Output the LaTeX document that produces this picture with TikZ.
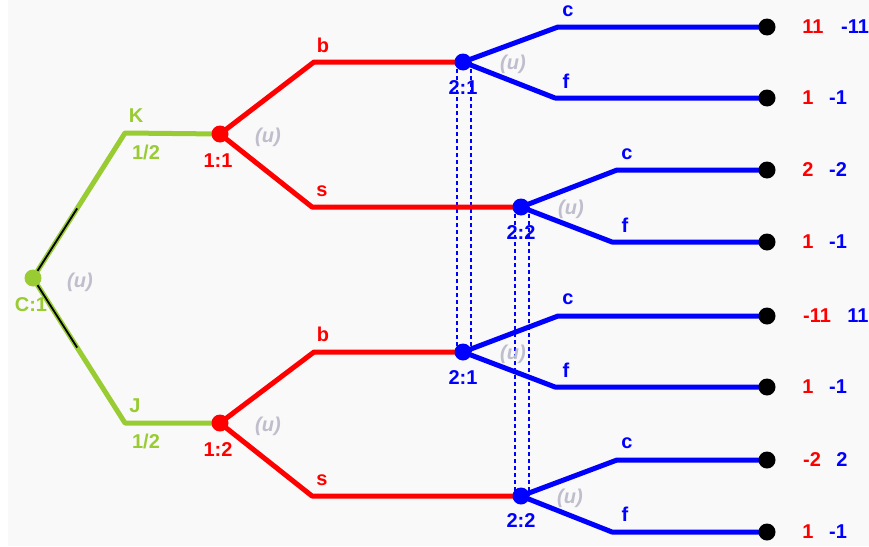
\documentclass[tikz,border=0pt]{standalone}
\usepackage{fontspec}
\setmainfont{Liberation Sans}
\usetikzlibrary{calc}
\pgfdeclarelayer{back}
\pgfdeclarelayer{mid}
\pgfsetlayers{back,mid,main}
\definecolor{gr}{RGB}{153,204,51}
\definecolor{rd}{RGB}{255,0,0}
\definecolor{bl}{RGB}{0,0,255}
\definecolor{ug}{RGB}{190,190,204}
\definecolor{bgc}{RGB}{249,249,249}
\begin{document}
\begin{tikzpicture}[x=1pt,y=-1pt,
  dot/.style={circle,fill=#1,inner sep=0pt,minimum size=17pt},
  term/.style={circle,fill=black,inner sep=0pt,minimum size=17pt},
  lab/.style={text=#1,font=\fontsize{20}{20}\selectfont\bfseries,inner sep=0pt},
  unif/.style={text=ug,font=\fontsize{20}{20}\selectfont\bfseries\itshape,inner sep=0pt},
  arm/.style={draw=#1,line width=5pt,line join=round},
  infoset/.style={color=bl,line width=1.1pt,dash pattern=on 4pt off 3pt},
]
\useasboundingbox (0,0) rectangle (869,546);
% decision nodes
\node[dot=gr] (root) at (33,278) {};
\node[dot=rd] (n11) at (220,134) {};
\node[dot=rd] (n12) at (220,423) {};
\node[dot=bl] (n21a) at (463,62) {};
\node[dot=bl] (n22a) at (521,207) {};
\node[dot=bl] (n21b) at (463,352) {};
\node[dot=bl] (n22b) at (521,496) {};
% terminals
\node[term] (t1) at (767,27) {};
\node[term] (t2) at (767,98) {};
\node[term] (t3) at (767,170) {};
\node[term] (t4) at (767,242) {};
\node[term] (t5) at (767,316) {};
\node[term] (t6) at (767,387) {};
\node[term] (t7) at (767,460) {};
\node[term] (t8) at (767,532) {};
% bends
\coordinate (Kc) at (125,133);
\coordinate (Jc) at (125,423);
\coordinate (b1c) at (314,62);
\coordinate (s1c) at (312,207);
\coordinate (b2c) at (314,352);
\coordinate (s2c) at (312,496);
\coordinate (c1c) at (558,27);
\coordinate (f1c) at (555,98);
\coordinate (c2c) at (617,170);
\coordinate (f2c) at (612,242);
\coordinate (c3c) at (558,316);
\coordinate (f3c) at (555,387);
\coordinate (c4c) at (617,460);
\coordinate (f4c) at (612,532);
\begin{pgfonlayer}{back}
  \fill[white] (0,0) rectangle (869,546);
  \fill[bgc] (8,0) rectangle (869,546);
  \draw[infoset] ($(n21a.center)+(-6,0)$) -- ($(n21b.center)+(-6,0)$);
  \draw[infoset] ($(n21a.center)+(8,0)$) -- ($(n21b.center)+(8,0)$);
  \draw[infoset] ($(n22a.center)+(-6,0)$) -- ($(n22b.center)+(-6,0)$);
  \draw[infoset] ($(n22a.center)+(8,0)$) -- ($(n22b.center)+(8,0)$);
\end{pgfonlayer}
\begin{pgfonlayer}{mid}
  \draw[arm=gr] (root.center) -- (Kc) -- (n11.center);
  \draw[arm=gr] (root.center) -- (Jc) -- (n12.center);
  \draw[black,line width=1.8pt] (root.center) -- ($(root.center)!0.48!(Kc)$);
  \draw[black,line width=1.8pt] (root.center) -- ($(root.center)!0.48!(Jc)$);
  \draw[arm=rd] (n11.center) -- (b1c) -- (n21a.center);
  \draw[arm=rd] (n11.center) -- (s1c) -- (n22a.center);
  \draw[arm=rd] (n12.center) -- (b2c) -- (n21b.center);
  \draw[arm=rd] (n12.center) -- (s2c) -- (n22b.center);
  \draw[arm=bl] (n21a.center) -- (c1c) -- (t1.center);
  \draw[arm=bl] (n21a.center) -- (f1c) -- (t2.center);
  \draw[arm=bl] (n22a.center) -- (c2c) -- (t3.center);
  \draw[arm=bl] (n22a.center) -- (f2c) -- (t4.center);
  \draw[arm=bl] (n21b.center) -- (c3c) -- (t5.center);
  \draw[arm=bl] (n21b.center) -- (f3c) -- (t6.center);
  \draw[arm=bl] (n22b.center) -- (c4c) -- (t7.center);
  \draw[arm=bl] (n22b.center) -- (f4c) -- (t8.center);
\end{pgfonlayer}
% labels
\node[lab=gr] (lC) at (31,305) {C:1};
\node[unif] (u0) at (80,282) {(u)};
\node[lab=gr] (lK) at (136,116) {K};
\node[lab=gr] (pK) at (146,152) {1/2};
\node[lab=gr] (lJ) at (135,406) {J};
\node[lab=gr] (pJ) at (146,441) {1/2};
\node[lab=rd] (l11) at (218,161) {1:1};
\node[unif] (u11) at (268,137) {(u)};
\node[lab=rd] (l12) at (218,450) {1:2};
\node[unif] (u12) at (268,426) {(u)};
\node[lab=rd] (lb1) at (323,45) {b};
\node[lab=rd] (ls1) at (322,191) {s};
\node[lab=rd] (lb2) at (323,334) {b};
\node[lab=rd] (ls2) at (322,480) {s};
\node[lab=bl] (l21a) at (463,88) {2:1};
\node[unif] (u21a) at (513,64) {(u)};
\node[lab=bl] (l22a) at (521,233) {2:2};
\node[unif] (u22a) at (571,209) {(u)};
\node[lab=bl] (l21b) at (463,378) {2:1};
\node[unif] (u21b) at (513,354) {(u)};
\node[lab=bl] (l22b) at (521,521) {2:2};
\node[unif] (u22b) at (570,498) {(u)};
\node[lab=bl] (lc1) at (568,11) {c};
\node[lab=bl] (lf1) at (566,81) {f};
\node[lab=bl] (lc2) at (627,154) {c};
\node[lab=bl] (lf2) at (625,225) {f};
\node[lab=bl] (lc3) at (568,299) {c};
\node[lab=bl] (lf3) at (566,370) {f};
\node[lab=bl] (lc4) at (627,443) {c};
\node[lab=bl] (lf4) at (625,514) {f};
% payoffs
\node[lab=rd] (p1a) at (813,27) {11};   \node[lab=bl] (p1b) at (855,27) {-11};
\node[lab=rd] (p2a) at (808,98) {1};    \node[lab=bl] (p2b) at (838,98) {-1};
\node[lab=rd] (p3a) at (808,170) {2};   \node[lab=bl] (p3b) at (838,170) {-2};
\node[lab=rd] (p4a) at (808,242) {1};   \node[lab=bl] (p4b) at (838,242) {-1};
\node[lab=rd] (p5a) at (817,316) {-11}; \node[lab=bl] (p5b) at (858,316) {11};
\node[lab=rd] (p6a) at (808,387) {1};   \node[lab=bl] (p6b) at (838,387) {-1};
\node[lab=rd] (p7a) at (812,460) {-2};  \node[lab=bl] (p7b) at (842,460) {2};
\node[lab=rd] (p8a) at (808,532) {1};   \node[lab=bl] (p8b) at (838,532) {-1};
\end{tikzpicture}
\end{document}
